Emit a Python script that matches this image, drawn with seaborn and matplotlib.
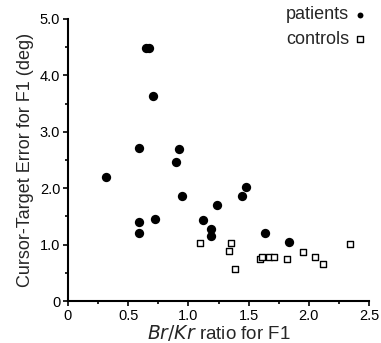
import matplotlib
matplotlib.use("Agg")
import matplotlib.pyplot as plt
import seaborn as sns
import pandas as pd
from matplotlib.ticker import MultipleLocator, FuncFormatter

# values
patients_x = [0.32, 0.648, 0.675, 0.706, 0.592, 0.922, 0.897, 0.95, 1.235, 0.592,
              0.725, 0.592, 1.119, 1.188, 1.188, 1.448, 1.481, 1.634, 1.838]
patients_y = [2.20, 4.48, 4.48, 3.63, 2.72, 2.70, 2.46, 1.87, 1.71, 1.40,
              1.45, 1.20, 1.44, 1.28, 1.15, 1.86, 2.02, 1.20, 1.05]
controls_x = [1.10, 1.354, 1.34, 1.387, 1.592, 1.614, 1.67, 1.714, 1.816, 1.954,
              2.052, 2.12, 2.34]
controls_y = [1.03, 1.03, 0.89, 0.57, 0.75, 0.78, 0.79, 0.79, 0.74, 0.87,
              0.78, 0.66, 1.01]

df_p = pd.DataFrame({"ratio": patients_x, "error": patients_y})
df_c = pd.DataFrame({"ratio": controls_x, "error": controls_y})

sns.set_style("ticks")
plt.rcParams["font.family"] = ["Liberation Sans", "DejaVu Sans"]

fig = plt.figure(figsize=(3.81, 3.43), dpi=100)
ax = fig.add_axes([0.178, 0.122, 0.791, 0.823])

sns.scatterplot(x="ratio", y="error", data=df_p, ax=ax, marker="o", color="black",
                s=45, edgecolor="black", linewidth=0, label="patients")
sns.scatterplot(x="ratio", y="error", data=df_c, ax=ax, marker="s", facecolor="white",
                s=22, edgecolor="black", linewidth=1.0, label="controls")

ax.set_xlim(0, 2.5)
ax.set_ylim(0, 5.0)
ax.xaxis.set_major_locator(MultipleLocator(0.5))
ax.xaxis.set_minor_locator(MultipleLocator(0.25))
ax.yaxis.set_major_locator(MultipleLocator(1.0))
ax.yaxis.set_minor_locator(MultipleLocator(0.5))
fmt = FuncFormatter(lambda v, p: "0" if v == 0 else f"{v:.1f}")
ax.xaxis.set_major_formatter(fmt)
ax.yaxis.set_major_formatter(fmt)
ax.tick_params(which="both", direction="out", width=1.2, colors="black", labelsize=10.5, pad=2)
ax.tick_params(which="major", length=3.5)
ax.tick_params(which="minor", length=2)
for s in ["left", "bottom"]:
    ax.spines[s].set_linewidth(1.5)
    ax.spines[s].set_color("black")
sns.despine(ax=ax)

ax.set_xlabel("$\\it{Br/Kr}$ ratio for F1", fontsize=13.5, labelpad=0)
ax.set_ylabel("Cursor-Target Error for F1 (deg)", fontsize=13, labelpad=4)

leg = ax.legend(loc="upper right", markerfirst=False, frameon=False, fontsize=13,
                handlelength=0.4, handletextpad=0.4, borderaxespad=0.0, labelspacing=0.4,
                bbox_to_anchor=(1.005, 1.07))
for h in leg.legend_handles:
    h.set_sizes([18])

fig.savefig("out.png", dpi=100)
